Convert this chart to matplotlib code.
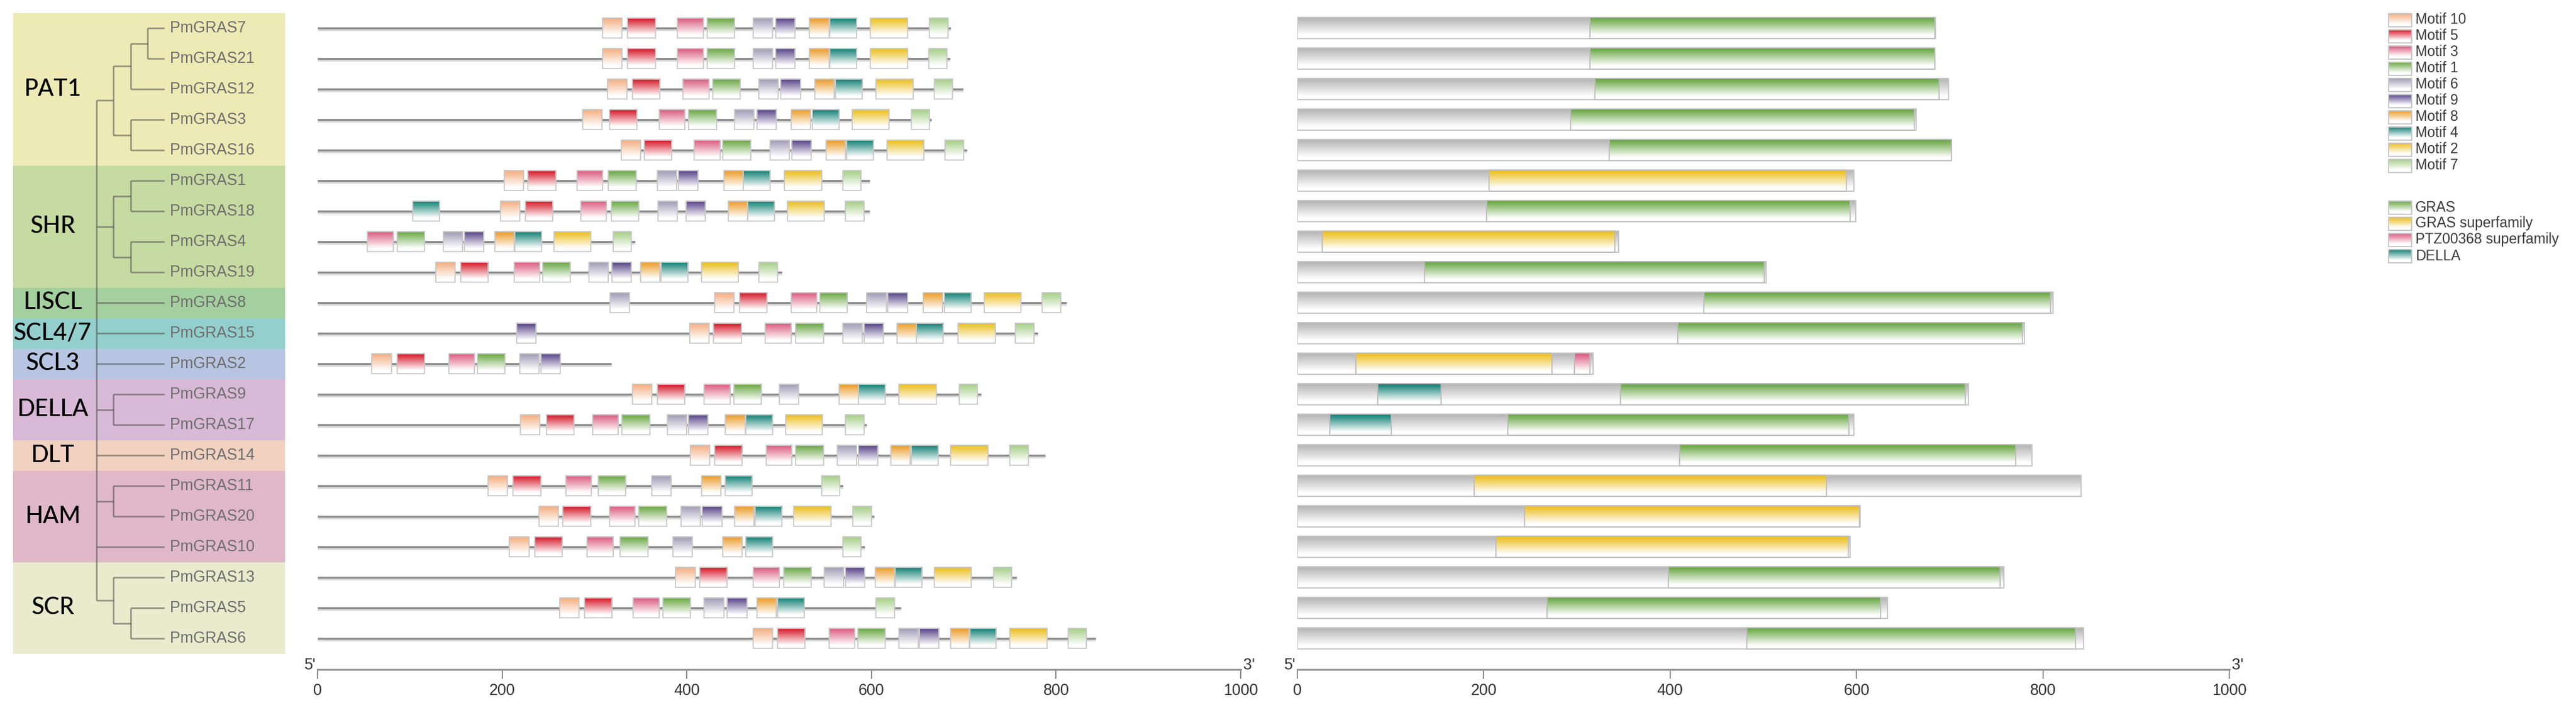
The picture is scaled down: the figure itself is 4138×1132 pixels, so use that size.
"""GRAS family: phylogeny, conserved motifs and domain structure"""
import numpy as np
import matplotlib
matplotlib.use("Agg")
import matplotlib.pyplot as plt
from matplotlib.colors import to_rgb
from matplotlib.patches import Rectangle

plt.rcParams['font.family'] = ['Liberation Sans', 'DejaVu Sans']

# ---------------- data ----------------
gene_names = ["PmGRAS7", "PmGRAS21", "PmGRAS12", "PmGRAS3", "PmGRAS16",
              "PmGRAS1", "PmGRAS18", "PmGRAS4", "PmGRAS19", "PmGRAS8",
              "PmGRAS15", "PmGRAS2", "PmGRAS9", "PmGRAS17", "PmGRAS14",
              "PmGRAS11", "PmGRAS20", "PmGRAS10", "PmGRAS13", "PmGRAS5",
              "PmGRAS6"]

groups = ["PAT1", "SHR", "LISCL", "SCL4/7", "SCL3", "DELLA", "DLT", "HAM", "SCR"]
group_sizes = [5, 4, 1, 1, 1, 2, 1, 3, 3]
group_colors = ["#eeeab5", "#c6dba1", "#a4cf9f", "#93cfcc", "#b7c5e2",
                "#d8b9d7", "#f1d1c0", "#e0b8c7", "#e9ebcc"]

tree = [
    [[["PmGRAS7", "PmGRAS21"], "PmGRAS12"], ["PmGRAS3", "PmGRAS16"]],
    [["PmGRAS1", "PmGRAS18"], ["PmGRAS4", "PmGRAS19"]],
    "PmGRAS8",
    "PmGRAS15",
    "PmGRAS2",
    ["PmGRAS9", "PmGRAS17"],
    "PmGRAS14",
    ["PmGRAS11", "PmGRAS20"],
    "PmGRAS10",
    ["PmGRAS13", ["PmGRAS5", "PmGRAS6"]],
]

motif_order = [10, 5, 3, 1, 6, 9, 8, 4, 2, 7]
motif_width = {10: 21, 5: 30, 3: 28, 1: 30, 6: 21, 9: 21, 8: 21, 4: 29, 2: 40, 7: 20}
motif_colors = {10: "#f4b084", 5: "#d6202f", 3: "#dc6184", 1: "#6eaa4a",
                6: "#a39fb8", 9: "#5d4a8c", 8: "#ec9f30", 4: "#1b857a",
                2: "#ecc024", 7: "#a8d08b"}

gene_len = [686, 685, 699, 665, 703, 598, 598, 344, 503, 811, 780,
            318, 719, 595, 788, 569, 603, 593, 757, 632, 843]

gene_motifs = [
    [(10, 309), (5, 336), (3, 390), (1, 422), (6, 472), (9, 496), (8, 533), (4, 555), (2, 599), (7, 663)],
    [(10, 309), (5, 336), (3, 390), (1, 422), (6, 472), (9, 496), (8, 533), (4, 555), (2, 599), (7, 662)],
    [(10, 314), (5, 341), (3, 396), (1, 428), (6, 478), (9, 502), (8, 539), (4, 561), (2, 605), (7, 668)],
    [(10, 287), (5, 316), (3, 370), (1, 402), (6, 452), (9, 476), (8, 513), (4, 536), (2, 579), (7, 643)],
    [(10, 329), (5, 354), (3, 408), (1, 439), (6, 490), (9, 514), (8, 551), (4, 573), (2, 617), (7, 680)],
    [(10, 202), (5, 228), (3, 281), (1, 315), (6, 368), (9, 391), (8, 440), (4, 461), (2, 506), (7, 569)],
    [(4, 103), (10, 198), (5, 225), (3, 285), (1, 318), (6, 369), (9, 399), (8, 445), (4, 466), (2, 509), (7, 572)],
    [(3, 54), (1, 86), (6, 136), (9, 159), (8, 192), (4, 214), (2, 256), (7, 320)],
    [(10, 128), (5, 155), (3, 213), (1, 244), (6, 294), (9, 319), (8, 350), (4, 372), (2, 416), (7, 478)],
    [(6, 317), (10, 430), (5, 457), (3, 513), (1, 544), (6, 595), (9, 618), (8, 656), (4, 679), (2, 722), (7, 785)],
    [(9, 216), (10, 403), (5, 429), (3, 485), (1, 518), (6, 569), (9, 592), (8, 628), (4, 649), (2, 694), (7, 756)],
    [(10, 59), (5, 86), (3, 142), (1, 173), (6, 219), (9, 242)],
    [(10, 341), (5, 368), (3, 419), (1, 451), (6, 500), (8, 565), (4, 586), (2, 630), (7, 695)],
    [(10, 220), (5, 248), (3, 298), (1, 330), (6, 379), (9, 402), (8, 442), (4, 464), (2, 507), (7, 572)],
    [(10, 404), (5, 430), (3, 486), (1, 518), (6, 563), (9, 586), (8, 621), (4, 643), (2, 686), (7, 750)],
    [(10, 185), (5, 212), (3, 269), (1, 304), (6, 362), (8, 416), (4, 442), (7, 546)],
    [(10, 240), (5, 266), (3, 316), (1, 348), (6, 394), (9, 417), (8, 452), (4, 474), (2, 516), (7, 580)],
    [(10, 208), (5, 235), (3, 292), (1, 328), (6, 385), (8, 439), (4, 464), (7, 569)],
    [(10, 388), (5, 414), (3, 472), (1, 505), (6, 549), (9, 572), (8, 604), (4, 626), (2, 668), (7, 732)],
    [(10, 262), (5, 289), (3, 342), (1, 374), (6, 419), (9, 444), (8, 476), (4, 498), (7, 605)],
    [(10, 472), (5, 498), (3, 554), (1, 585), (6, 630), (9, 652), (8, 686), (4, 706), (2, 750), (7, 813)],
]

domain_names = ["GRAS", "GRAS superfamily", "PTZ00368 superfamily", "DELLA"]
domain_colors = {"GRAS": "#6eaa4a", "GRAS superfamily": "#ecc024",
                 "PTZ00368 superfamily": "#dc6184", "DELLA": "#1b857a"}

prot_len = [685, 684, 699, 664, 702, 597, 599, 345, 503, 811, 780,
            317, 720, 597, 788, 841, 604, 593, 758, 633, 844]

prot_domains = [
    [("GRAS", 314, 684)],
    [("GRAS", 314, 684)],
    [("GRAS", 319, 689)],
    [("GRAS", 293, 662)],
    [("GRAS", 335, 702)],
    [("GRAS superfamily", 206, 589)],
    [("GRAS", 203, 593)],
    [("GRAS superfamily", 27, 341)],
    [("GRAS", 136, 501)],
    [("GRAS", 436, 808)],
    [("GRAS", 408, 778)],
    [("GRAS superfamily", 63, 273), ("PTZ00368 superfamily", 297, 314)],
    [("DELLA", 86, 154), ("GRAS", 347, 717)],
    [("DELLA", 35, 101), ("GRAS", 226, 592)],
    [("GRAS", 410, 771)],
    [("GRAS superfamily", 190, 568)],
    [("GRAS superfamily", 244, 603)],
    [("GRAS superfamily", 213, 591)],
    [("GRAS", 398, 754)],
    [("GRAS", 268, 626)],
    [("GRAS", 482, 835)],
]

# ---------------- layout (pixels) ----------------
W, H = 4138, 1132
N = len(gene_names)
ROW0, ROWH = 45, 49
TOP = ROW0 - ROWH / 2
BOT = ROW0 + ROWH * (N - 0.5)
LEAF_DEPTH = 4


def px_axes(fig, x0, y0, x1, y1):
    """Axes placed by a pixel box (origin at top left)"""
    return fig.add_axes([x0 / W, 1 - y1 / H, (x1 - x0) / W, (y1 - y0) / H])


def gradient(color, n=80, base=None):
    """Vertical gradient from colour at the top to white at the bottom"""
    c = np.array(to_rgb(color))
    t = np.linspace(0, 1, n)[:, None]
    m = np.clip((t - 0.06) / 0.78, 0, 1)
    img = c * (1 - m) + m
    return img[:, None, :]


def grad_box(ax, x0, x1, yc, h, color, edge="#c9c9c9", z=3):
    ax.imshow(gradient(color), extent=(x0, x1, yc + h / 2, yc - h / 2),
              aspect="auto", interpolation="bilinear", zorder=z)
    ax.add_patch(Rectangle((x0, yc - h / 2), x1 - x0, h, fill=False,
                           ec=edge, lw=1.3, zorder=z + 0.1))


def style_scale(ax):
    ax.set_xlim(0, 1000)
    ax.set_ylim(N - 0.5, -0.5)
    ax.patch.set_alpha(0)
    for s in ("top", "right", "left"):
        ax.spines[s].set_visible(False)
    ax.spines["bottom"].set_position(("outward", 18.4))
    ax.spines["bottom"].set_color("#9a9a9a")
    ax.spines["bottom"].set_linewidth(2.2)
    ax.set_yticks([])
    ax.set_xticks(range(0, 1001, 200))
    ax.tick_params(axis="x", length=10.5, width=1.4, color="#8a8a8a",
                   labelsize=18, labelcolor="#333333", pad=5)
    trans = ax.get_xaxis_transform()
    ax.text(-2, -0.018, "5'", transform=trans, ha="right", va="center",
            fontsize=18, color="#333333", clip_on=False)
    ax.text(1003, -0.018, "3'", transform=trans, ha="left", va="center",
            fontsize=18, color="#333333", clip_on=False)


row_of = {name: i for i, name in enumerate(gene_names)}


def draw_clade(ax, node, depth):
    """Cladogram: returns (y, x) of the node"""
    if isinstance(node, str):
        return row_of[node], LEAF_DEPTH
    ys = []
    for child in node:
        y, cx = draw_clade(ax, child, depth + 1)
        ax.plot([depth, cx], [y, y], color="#555555", alpha=0.6, lw=1.8,
                solid_capstyle="butt", zorder=2)
        ys.append(y)
    ax.plot([depth, depth], [min(ys), max(ys)], color="#555555", alpha=0.6,
            lw=1.8, solid_capstyle="butt", zorder=2)
    return (min(ys) + max(ys)) / 2, depth


def main():
    fig = plt.figure(figsize=(W / 100, H / 100), dpi=100)
    fig.patch.set_facecolor("white")

    # ---- tree panel ----
    ax_tree = px_axes(fig, 21, TOP, 458, BOT)
    step = (264 - 155) / LEAF_DEPTH
    ax_tree.set_xlim((21 - 155) / step, (458 - 155) / step)
    ax_tree.set_ylim(N - 0.5, -0.5)
    ax_tree.axis("off")
    start = 0
    for name, size, col in zip(groups, group_sizes, group_colors):
        ax_tree.axhspan(start - 0.5, start + size - 0.5, color=col, lw=0, zorder=0)
        ax_tree.text((85 - 155) / step, start + (size - 1) / 2, name,
                     ha="center", va="center", fontsize=27, color="black",
                     family=["Lato", "DejaVu Sans"], fontweight="medium", zorder=3)
        start += size
    draw_clade(ax_tree, tree, 0)
    for i, name in enumerate(gene_names):
        ax_tree.text(LEAF_DEPTH + 0.33, i, name, ha="left", va="center",
                     fontsize=18, color="#6e6e6e", zorder=3)

    # ---- motif panel ----
    ax_gene = px_axes(fig, 510, TOP, 1993, BOT)
    for i, (length, motifs) in enumerate(zip(gene_len, gene_motifs)):
        ax_gene.plot([0, length], [i + 0.05, i + 0.05], color="#dcdcdc", lw=3.6,
                     solid_capstyle="butt", zorder=1)
        ax_gene.plot([0, length], [i, i], color="#8c8c8c", lw=2.3,
                     solid_capstyle="butt", zorder=2)
        for m, s in motifs:
            grad_box(ax_gene, s, s + motif_width[m], i, 0.66, motif_colors[m])
    style_scale(ax_gene)

    # ---- domain panel ----
    ax_dom = px_axes(fig, 2084, TOP, 3581, BOT)
    for i, (length, doms) in enumerate(zip(prot_len, prot_domains)):
        grad_box(ax_dom, 0, length, i, 0.69, "#b8b8b8", edge="#c4c4c4", z=2)
        for d, s, e in doms:
            grad_box(ax_dom, s, e, i, 0.69, domain_colors[d], edge="#bdbdbd", z=3)
    style_scale(ax_dom)

    # ---- legend ----
    ax_leg = px_axes(fig, 3830, 0, 4138, 460)
    ax_leg.set_xlim(0, 308)
    ax_leg.set_ylim(460, 0)
    ax_leg.axis("off")
    entries = [(motif_colors[m], "Motif %d" % m, 32 + 26 * k)
               for k, m in enumerate(motif_order)]
    entries += [(domain_colors[d], d, 333 + 26 * j)
                for j, d in enumerate(domain_names)]
    for col, label, y in entries:
        grad_box(ax_leg, 7, 44, y, 21, col, edge="#c4c4c4")
        ax_leg.text(50, y, label, ha="left", va="center", fontsize=16.5,
                    color="#3a3a3a")
    ax_leg.set_xlim(0, 308)
    ax_leg.set_ylim(460, 0)

    fig.savefig("out.png", dpi=100, facecolor="white")


if __name__ == "__main__":
    main()
